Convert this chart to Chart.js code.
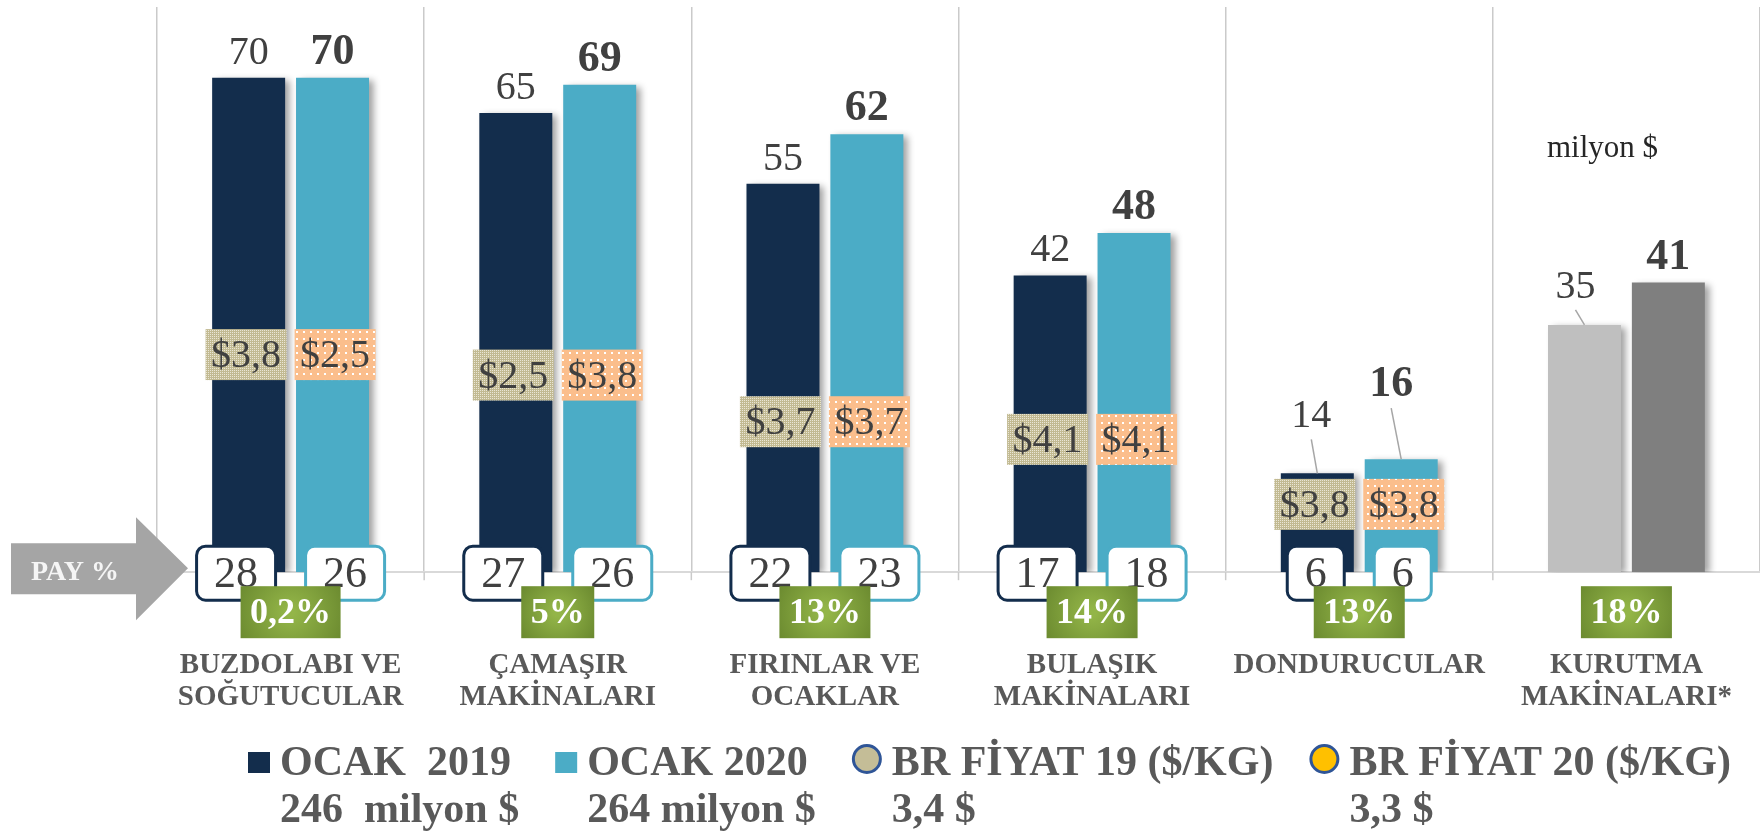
<!DOCTYPE html>
<html>
<head>
<meta charset="utf-8">
<script src="https://cdn.jsdelivr.net/npm/chart.js@4.4.0/dist/chart.umd.min.js"></script>
<style>
    html, body { margin: 0; padding: 0; background: #fff; }
    #wrap { width: 1760px; height: 834px; }
</style>
</head>
<body>
<div id="wrap"><canvas id="chart" width="1760" height="834"></canvas></div>
<script>
// Chart data
const categories = [
    ['BUZDOLABI VE', 'SOĞUTUCULAR'],
    ['ÇAMAŞIR', 'MAKİNALARI'],
    ['FIRINLAR VE', 'OCAKLAR'],
    ['BULAŞIK', 'MAKİNALARI'],
    'DONDURUCULAR',
    ['KURUTMA', 'MAKİNALARI*']
];
const ocak2019 = [70, 65, 55, 42, 14, 35];
const ocak2020 = [70, 69, 62, 48, 16, 41];
const fiyat19 = [3.8, 2.5, 3.7, 4.1, 3.8, null];
const fiyat20 = [2.5, 3.8, 3.7, 4.1, 3.8, null];
const pay19 = [28, 27, 22, 17, 6, null];
const pay20 = [26, 26, 23, 18, 6, null];
const artis = [0.2, 5, 13, 14, 13, 18];
const legendTotals = ['246  milyon $', '264 milyon $', '3,4 $', '3,3 $'];

const NAVY = '#132D4C';
const BLUE = '#4BACC6';
const serif = (weight, size) => `${weight} ${size}px "Liberation Serif", "Times New Roman", serif`;
const trNum = v => v.toLocaleString('tr-TR', { maximumFractionDigits: 1 });

// Fill patterns for the price boxes
function makePattern(ctx, size, base, dot, cells) {
    const c = document.createElement('canvas');
    c.width = size;
    c.height = size;
    const g = c.getContext('2d');
    g.fillStyle = base;
    g.fillRect(0, 0, size, size);
    g.fillStyle = dot;
    cells.forEach(([x, y, w, h]) => g.fillRect(x, y, w, h));
    return ctx.createPattern(c, 'repeat');
}

// Two boxes in one category: push apart until they keep a minimum gap
function spread(x1, w1, x2, w2, gap) {
    const cur = (x2 - w2 / 2) - (x1 + w1 / 2);
    if (cur >= gap) return [x1, x2];
    const d = (gap - cur) / 2;
    return [x1 - d, x2 + d];
}

function roundRect(ctx, x, y, w, h, r) {
    ctx.beginPath();
    ctx.moveTo(x + r, y);
    ctx.arcTo(x + w, y, x + w, y + h, r);
    ctx.arcTo(x + w, y + h, x, y + h, r);
    ctx.arcTo(x, y + h, x, y, r);
    ctx.arcTo(x, y, x + w, y, r);
    ctx.closePath();
}

// Small tick marks under the axis at category boundaries
const boundaryTicks = {
    id: 'boundaryTicks',
    beforeDatasetsDraw(chart) {
        const ctx = chart.ctx;
        const x = chart.scales.x;
        const base = chart.chartArea.bottom;
        ctx.save();
        ctx.strokeStyle = '#CACACA';
        ctx.lineWidth = 1.5;
        for (let i = 0; i < x.ticks.length - 1; i++) {
            const px = (x.getPixelForTick(i) + x.getPixelForTick(i + 1)) / 2;
            ctx.beginPath();
            ctx.moveTo(px, base);
            ctx.lineTo(px, base + 8);
            ctx.stroke();
        }
        ctx.restore();
    }
};

// Soft shadow on the right of every bar
const barShadow = {
    id: 'barShadow',
    beforeDatasetDraw(chart, args) {
        if (args.meta.type !== 'bar') return;
        const ctx = chart.ctx;
        ctx.save();
        ctx.shadowColor = 'rgba(0, 0, 0, 0.38)';
        ctx.shadowBlur = 7;
        ctx.shadowOffsetX = 5;
        ctx.shadowOffsetY = 2;
    },
    afterDatasetDraw(chart, args) {
        if (args.meta.type !== 'bar') return;
        chart.ctx.restore();
    }
};

// Labels, price boxes, share boxes, growth boxes
const annotations = {
    id: 'annotations',
    afterDatasetsDraw(chart, args, opts) {
        const ctx = chart.ctx;
        const y = chart.scales.y;
        const x = chart.scales.x;
        const bars19 = chart.getDatasetMeta(0).data;
        const bars20 = chart.getDatasetMeta(1).data;
        const base = y.getPixelForValue(0);

        // bar value labels
        [[bars19, ocak2019, 'normal', 40], [bars20, ocak2020, 'bold', 44]].forEach(([bars, values, weight, size], di) => {
            bars.forEach((bar, i) => {
                const moved = opts.moved.find(m => m.ds === di && m.i === i);
                const dx = moved ? moved.dx : 0;
                const dy = moved ? moved.dy : 0;
                const ty = bar.y - 14 + dy;
                ctx.save();
                ctx.font = serif(weight, size);
                ctx.fillStyle = '#404040';
                ctx.textAlign = 'center';
                ctx.textBaseline = 'alphabetic';
                ctx.fillText(values[i], bar.x + dx, ty);
                if (moved) {
                    ctx.strokeStyle = '#A6A6A6';
                    ctx.lineWidth = 1.5;
                    ctx.beginPath();
                    ctx.moveTo(bar.x + dx, ty + 12);
                    ctx.lineTo(bar.x, bar.y);
                    ctx.stroke();
                }
                ctx.restore();
            });
        });

        // price boxes
        const pat19 = makePattern(ctx, 4, '#C2BA92', '#EAE6D6', [[0, 0, 1, 1], [2, 2, 1, 1], [2, 0, 1, 1], [0, 2, 1, 1]]);
        const pat20 = makePattern(ctx, 7, '#FBBE8C', '#FFFFFF', [[2, 2, 2, 2]]);
        ctx.save();
        ctx.font = serif('normal', 40);
        fiyat19.forEach((p19, i) => {
            if (p19 == null) return;
            const t1 = '$' + p19.toFixed(1).replace('.', ',');
            const t2 = '$' + fiyat20[i].toFixed(1).replace('.', ',');
            const w1 = ctx.measureText(t1).width + 11;
            const w2 = ctx.measureText(t2).width + 11;
            const [c1, c2] = spread(bars19[i].x, w1, bars20[i].x, w2, 8);
            const cy = y.getPixelForValue(opts.priceLevel[i]);
            [[c1, w1, t1, pat19], [c2, w2, t2, pat20]].forEach(([cx, w, t, pat]) => {
                ctx.fillStyle = pat;
                ctx.fillRect(cx - w / 2, cy - 25.5, w, 51);
                ctx.fillStyle = '#404040';
                ctx.textAlign = 'center';
                ctx.textBaseline = 'middle';
                ctx.fillText(t, cx, cy + 2);
            });
        });
        ctx.restore();

        // share (PAY %) boxes
        ctx.save();
        ctx.font = serif('normal', 44);
        pay19.forEach((p19, i) => {
            if (p19 == null) return;
            const t1 = String(p19);
            const t2 = String(pay20[i]);
            const w1 = ctx.measureText(t1).width + 35;
            const w2 = ctx.measureText(t2).width + 35;
            const [c1, c2] = spread(bars19[i].x, w1, bars20[i].x, w2, 30);
            [[c1, w1, t1, NAVY], [c2, w2, t2, BLUE]].forEach(([cx, w, t, col]) => {
                roundRect(ctx, cx - w / 2, base - 26, w, 54, 9);
                ctx.fillStyle = '#FFFFFF';
                ctx.fill();
                ctx.strokeStyle = col;
                ctx.lineWidth = 3;
                ctx.stroke();
                ctx.fillStyle = '#404040';
                ctx.textAlign = 'center';
                ctx.textBaseline = 'middle';
                ctx.fillText(t, cx, base + 3);
            });
        });
        ctx.restore();

        // growth boxes
        ctx.save();
        ctx.font = serif('bold', 36);
        artis.forEach((v, i) => {
            const t = trNum(v) + '%';
            const cx = x.getPixelForValue(i);
            const w = ctx.measureText(t).width + 19;
            const top = base + 14;
            const h = 52;
            const g = ctx.createRadialGradient(cx, top + h / 2, 4, cx, top + h / 2, w / 2 + 6);
            g.addColorStop(0, '#93B548');
            g.addColorStop(1, '#6C8B30');
            ctx.fillStyle = g;
            ctx.fillRect(cx - w / 2, top, w, h);
            ctx.fillStyle = '#FFFFFF';
            ctx.textAlign = 'center';
            ctx.textBaseline = 'middle';
            ctx.fillText(t, cx, top + h / 2 + 2);
        });
        ctx.restore();

        // unit note
        ctx.save();
        ctx.font = serif('normal', 31);
        ctx.fillStyle = '#262626';
        ctx.textAlign = 'left';
        ctx.fillText('milyon $', 1547, 157);
        ctx.restore();

        // PAY % arrow
        ctx.save();
        ctx.fillStyle = '#A5A5A5';
        ctx.beginPath();
        ctx.moveTo(11, base - 29);
        ctx.lineTo(136, base - 29);
        ctx.lineTo(136, base - 55);
        ctx.lineTo(188, base - 4);
        ctx.lineTo(136, base + 48);
        ctx.lineTo(136, base + 22);
        ctx.lineTo(11, base + 22);
        ctx.closePath();
        ctx.fill();
        ctx.font = serif('bold', 28);
        ctx.fillStyle = '#F5F5F5';
        ctx.textAlign = 'left';
        ctx.fillText('PAY %', 31, base + 8);
        ctx.restore();
    }
};

// Two-line legend under the axis labels
const bottomLegend = {
    id: 'bottomLegend',
    afterDraw(chart) {
        const ctx = chart.ctx;
        const sets = chart.data.datasets;
        let xPos = 248;
        ctx.save();
        ctx.font = serif('bold', 42);
        ctx.fillStyle = '#595959';
        ctx.textBaseline = 'alphabetic';
        sets.forEach((ds, i) => {
            let markW;
            if (ds.type === 'line') {
                markW = 30;
                ctx.beginPath();
                ctx.arc(xPos + 15, 759, 13.5, 0, Math.PI * 2);
                ctx.fillStyle = ds.backgroundColor;
                ctx.fill();
                ctx.strokeStyle = ds.borderColor;
                ctx.lineWidth = 3;
                ctx.stroke();
            } else {
                markW = 22;
                ctx.fillStyle = ds.legendColor;
                ctx.fillRect(xPos, 752, 22, 21);
            }
            const tx = xPos + markW + 10;
            ctx.fillStyle = '#595959';
            ctx.textAlign = 'left';
            ctx.fillText(ds.label, tx, 775);
            ctx.fillText(legendTotals[i], tx, 822);
            const w = Math.max(ctx.measureText(ds.label).width, ctx.measureText(legendTotals[i]).width);
            xPos = tx + w + 36;
        });
        ctx.restore();
    }
};

const barColors19 = ocak2019.map((v, i) => i === 5 ? '#BFBFBF' : NAVY);
const barColors20 = ocak2020.map((v, i) => i === 5 ? '#7F7F7F' : BLUE);

const chart = new Chart(document.getElementById('chart'), {
    type: 'bar',
    data: {
        labels: categories,
        datasets: [
            {
                label: 'OCAK  2019',
                data: ocak2019,
                backgroundColor: barColors19,
                legendColor: NAVY,
                borderWidth: 0,
                categoryPercentage: 0.628,
                barPercentage: 0.87
            },
            {
                label: 'OCAK 2020',
                data: ocak2020,
                backgroundColor: barColors20,
                legendColor: BLUE,
                borderWidth: 0,
                categoryPercentage: 0.628,
                barPercentage: 0.87
            },
            {
                type: 'line',
                label: 'BR FİYAT 19 ($/KG)',
                data: fiyat19,
                yAxisID: 'y2',
                showLine: false,
                pointRadius: 0,
                backgroundColor: '#C4BD97',
                borderColor: '#2F5597'
            },
            {
                type: 'line',
                label: 'BR FİYAT 20 ($/KG)',
                data: fiyat20,
                yAxisID: 'y2',
                showLine: false,
                pointRadius: 0,
                backgroundColor: '#FFC000',
                borderColor: '#2F5597'
            }
        ]
    },
    options: {
        responsive: false,
        animation: false,
        devicePixelRatio: 1,
        layout: {
            padding: { left: 157, top: 7, right: 0, bottom: 121 }
        },
        plugins: {
            legend: { display: false },
            tooltip: { enabled: false },
            annotations: {
                // label anchors (axis units) where the price boxes were placed
                priceLevel: [30.8, 27.9, 21.3, 18.8, 9.6],
                // labels dragged up with a leader line
                moved: [
                    { ds: 0, i: 4, dx: -6, dy: -32 },
                    { ds: 1, i: 4, dx: -10, dy: -49 },
                    { ds: 0, i: 5, dx: -9, dy: -13 }
                ]
            }
        },
        scales: {
            x: {
                offset: true,
                grid: {
                    display: true,
                    offset: true,
                    color: '#CACACA',
                    lineWidth: 1.5,
                    drawTicks: true,
                    tickLength: 77,
                    tickColor: 'rgba(0, 0, 0, 0)'
                },
                border: { display: true, color: '#D9D9D9', width: 2 },
                ticks: {
                    color: '#595959',
                    padding: 0,
                    maxRotation: 0,
                    autoSkip: false,
                    font: { family: '"Liberation Serif", "Times New Roman", serif', size: 29, weight: 'bold', lineHeight: 1.1 }
                }
            },
            y: {
                display: false,
                min: 0,
                max: 80
            },
            y2: {
                display: false,
                min: 0,
                max: 5
            }
        }
    },
    plugins: [boundaryTicks, barShadow, annotations, bottomLegend]
});
</script>
</body>
</html>
